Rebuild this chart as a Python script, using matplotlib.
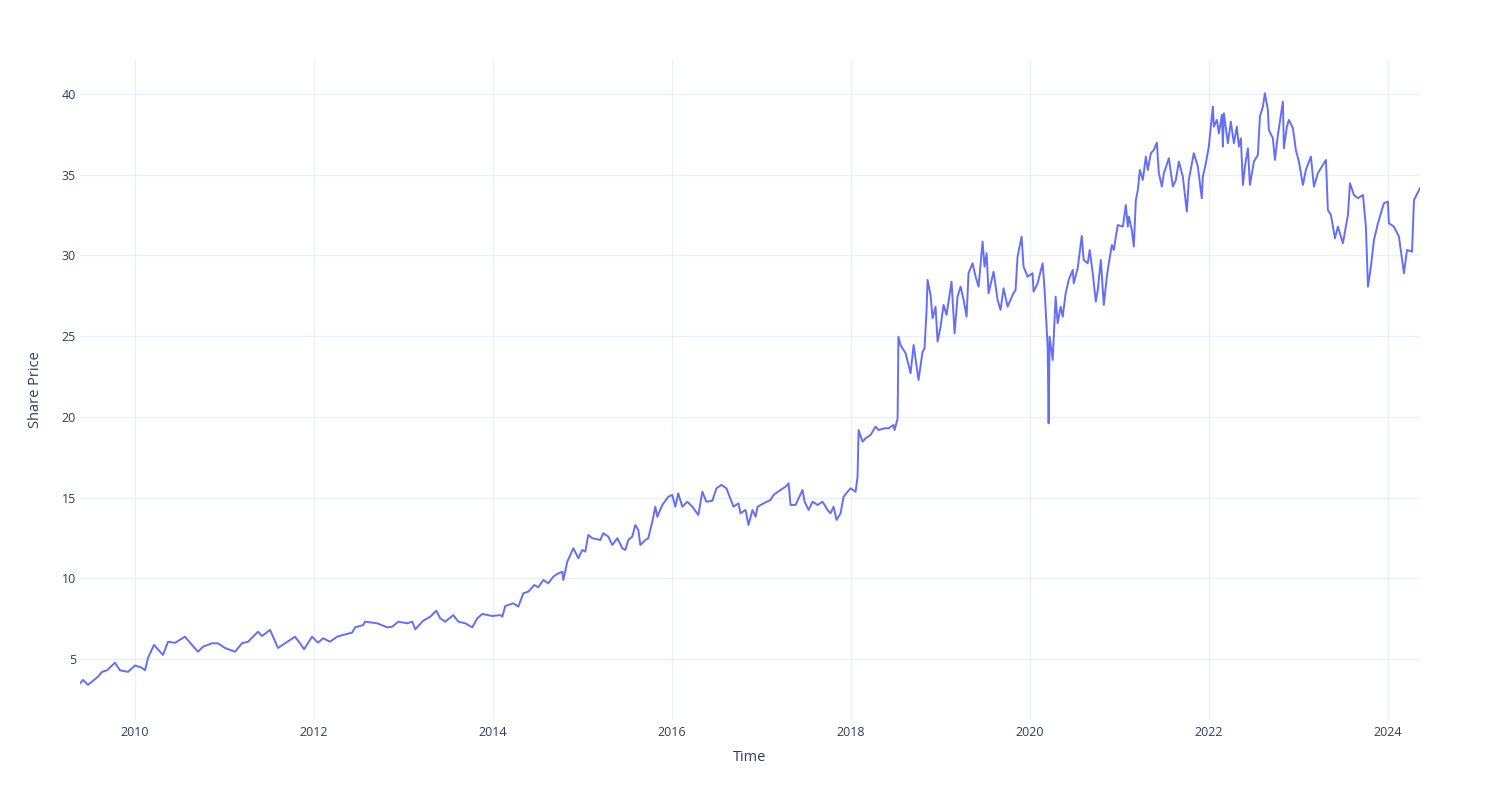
import pandas as pd
import matplotlib
matplotlib.use("Agg")
import matplotlib.pyplot as plt
import matplotlib.dates as mdates

# share price, time as decimal years
years = [
    2009.385, 2009.419, 2009.474, 2009.519, 2009.586, 2009.631, 2009.687, 2009.776, 2009.832, 2009.922,
    2010.000, 2010.078, 2010.112, 2010.145, 2010.212, 2010.313, 2010.369, 2010.447, 2010.559, 2010.637,
    2010.704, 2010.760, 2010.861, 2010.928,
    2011.006, 2011.118, 2011.196, 2011.264, 2011.375, 2011.420, 2011.510, 2011.599, 2011.677, 2011.789,
    2011.845, 2011.890, 2011.979,
    2012.046, 2012.102, 2012.180, 2012.259, 2012.326, 2012.426, 2012.460, 2012.549, 2012.572, 2012.706,
    2012.818, 2012.874, 2012.941,
    2013.041, 2013.097, 2013.131, 2013.220, 2013.299, 2013.366, 2013.410, 2013.466, 2013.556, 2013.612,
    2013.690, 2013.768, 2013.824, 2013.880, 2013.992,
    2014.081, 2014.104, 2014.137, 2014.227, 2014.283, 2014.339, 2014.394, 2014.462, 2014.506, 2014.562,
    2014.618, 2014.674, 2014.730, 2014.775, 2014.786, 2014.831, 2014.898, 2014.954, 2014.998,
    2015.032, 2015.065, 2015.110, 2015.200, 2015.233, 2015.289, 2015.334, 2015.390, 2015.446, 2015.479,
    2015.513, 2015.557, 2015.591, 2015.625, 2015.647, 2015.703, 2015.736, 2015.781, 2015.815, 2015.837,
    2015.893, 2015.960,
    2016.004, 2016.038, 2016.071, 2016.116, 2016.172, 2016.228, 2016.295, 2016.340, 2016.384, 2016.451,
    2016.496, 2016.552, 2016.608, 2016.687, 2016.742, 2016.765, 2016.821, 2016.854, 2016.899, 2016.933,
    2016.955,
    2017.022, 2017.100, 2017.134, 2017.212, 2017.268, 2017.302, 2017.324, 2017.380, 2017.414, 2017.458,
    2017.481, 2017.526, 2017.570, 2017.626, 2017.682, 2017.738, 2017.771, 2017.805, 2017.838, 2017.883,
    2017.917, 2017.962, 2017.995,
    2018.051, 2018.073, 2018.085, 2018.129, 2018.163, 2018.219, 2018.275, 2018.308, 2018.375, 2018.420,
    2018.476, 2018.487, 2018.521, 2018.530, 2018.553, 2018.610, 2018.666, 2018.700, 2018.755, 2018.800,
    2018.822, 2018.845, 2018.856, 2018.889, 2018.912, 2018.945, 2018.968,
    2019.001, 2019.035, 2019.068, 2019.124, 2019.158, 2019.191, 2019.225, 2019.259, 2019.292, 2019.314,
    2019.359, 2019.393, 2019.426, 2019.471, 2019.493, 2019.516, 2019.538, 2019.594, 2019.639, 2019.672,
    2019.706, 2019.751, 2019.807, 2019.840, 2019.862, 2019.907, 2019.929, 2019.974,
    2020.030, 2020.041, 2020.086, 2020.142, 2020.164, 2020.198, 2020.209, 2020.220, 2020.254, 2020.287,
    2020.310, 2020.343, 2020.366, 2020.399, 2020.433, 2020.478, 2020.489, 2020.533, 2020.578, 2020.600,
    2020.645, 2020.667, 2020.701, 2020.735, 2020.757, 2020.791, 2020.824, 2020.858, 2020.880, 2020.914,
    2020.936, 2020.958, 2020.981,
    2021.037, 2021.070, 2021.092, 2021.104, 2021.137, 2021.159, 2021.182, 2021.204, 2021.227, 2021.260,
    2021.294, 2021.316, 2021.350, 2021.383, 2021.417, 2021.439, 2021.473, 2021.495, 2021.551, 2021.596,
    2021.629, 2021.663, 2021.707, 2021.752, 2021.774, 2021.830, 2021.875, 2021.919, 2021.931, 2021.965,
    2021.998,
    2022.043, 2022.054, 2022.088, 2022.110, 2022.144, 2022.155, 2022.166, 2022.211, 2022.244, 2022.278,
    2022.311, 2022.334, 2022.356, 2022.379, 2022.401, 2022.435, 2022.457, 2022.502, 2022.546, 2022.569,
    2022.602, 2022.625, 2022.658, 2022.669, 2022.714, 2022.737, 2022.770, 2022.792, 2022.826, 2022.837,
    2022.871, 2022.893, 2022.938, 2022.971,
    2023.005, 2023.050, 2023.083, 2023.139, 2023.173, 2023.217, 2023.251, 2023.307, 2023.329, 2023.363,
    2023.408, 2023.441, 2023.497, 2023.553, 2023.576, 2023.620, 2023.665, 2023.721, 2023.754, 2023.777,
    2023.810, 2023.844, 2023.889, 2023.922, 2023.955,
    2024.000, 2024.011, 2024.067, 2024.123, 2024.179, 2024.213, 2024.269, 2024.291, 2024.358,
]
prices = [
    3.50, 3.70, 3.40, 3.60, 3.90, 4.20, 4.30, 4.77, 4.30, 4.20,
    4.60, 4.45, 4.30, 5.06, 5.87, 5.25, 6.07, 6.00, 6.38, 5.87,
    5.45, 5.76, 5.97, 5.97,
    5.68, 5.45, 5.97, 6.07, 6.69, 6.42, 6.80, 5.68, 5.97, 6.38,
    5.97, 5.60, 6.38,
    6.01, 6.28, 6.07, 6.38, 6.49, 6.63, 6.96, 7.10, 7.31, 7.21,
    6.96, 7.00, 7.31,
    7.21, 7.31, 6.84, 7.37, 7.62, 7.99, 7.52, 7.31, 7.72, 7.31,
    7.21, 6.96, 7.52, 7.79, 7.66,
    7.72, 7.62, 8.28, 8.45, 8.24, 9.07, 9.17, 9.58, 9.44, 9.89,
    9.69, 10.10, 10.30, 10.40, 9.89, 11.03, 11.86, 11.24, 11.75,
    11.65, 12.68, 12.48, 12.37, 12.79, 12.58, 12.06, 12.48, 11.86, 11.75,
    12.37, 12.58, 13.30, 12.99, 12.06, 12.37, 12.48, 13.50, 14.43, 13.81,
    14.54, 15.05,
    15.16, 14.43, 15.26, 14.43, 14.74, 14.43, 13.92, 15.36, 14.74, 14.80,
    15.57, 15.78, 15.57, 14.43, 14.64, 14.02, 14.23, 13.30, 14.23, 13.81,
    14.43,
    14.64, 14.85, 15.16, 15.47, 15.67, 15.88, 14.54, 14.54, 14.95, 15.47,
    14.74, 14.23, 14.74, 14.54, 14.74, 14.23, 14.02, 14.43, 13.61, 14.02,
    15.05, 15.36, 15.57,
    15.36, 16.29, 19.18, 18.46, 18.67, 18.88, 19.39, 19.18, 19.29, 19.29,
    19.49, 19.18, 19.90, 24.96, 24.45, 23.94, 22.70, 24.45, 22.28, 24.03,
    24.24, 26.62, 28.48, 27.55, 26.10, 26.82, 24.66,
    25.58, 26.93, 26.31, 28.37, 25.17, 27.44, 28.06, 27.24, 26.20, 28.89,
    29.51, 28.68, 28.06, 30.85, 29.30, 30.13, 27.65, 28.99, 27.24, 26.62,
    27.96, 26.82, 27.55, 27.86, 29.92, 31.16, 29.30, 28.68,
    28.89, 27.75, 28.27, 29.51, 27.86, 24.35, 19.60, 24.96, 23.52, 27.44,
    25.79, 26.82, 26.20, 27.65, 28.48, 29.10, 28.27, 29.20, 31.20, 29.72,
    29.51, 30.33, 28.89, 27.13, 27.86, 29.72, 26.93, 28.68, 29.51, 30.64,
    30.33, 31.16, 31.88,
    31.78, 33.12, 31.78, 32.40, 31.57, 30.54, 33.43, 34.05, 35.29, 34.67,
    36.12, 35.29, 36.33, 36.53, 36.98, 35.09, 34.26, 35.09, 36.02, 34.26,
    34.67, 35.81, 34.88, 32.71, 34.67, 36.33, 35.50, 33.54, 34.88, 35.71,
    36.74,
    39.21, 37.97, 38.39, 37.56, 38.70, 36.74, 38.80, 36.94, 38.28, 36.94,
    37.97, 36.74, 37.25, 34.36, 35.50, 36.63, 34.36, 35.81, 36.22, 38.60,
    39.21, 40.04, 39.01, 37.77, 37.25, 35.91, 37.46, 38.28, 39.52, 36.63,
    37.97, 38.39, 37.87, 36.53,
    35.81, 34.36, 35.29, 36.12, 34.26, 35.09, 35.40, 35.91, 32.81, 32.50,
    31.06, 31.78, 30.75, 32.50, 34.47, 33.74, 33.54, 33.74, 31.78, 28.06,
    29.30, 30.95, 31.99, 32.61, 33.23,
    33.33, 31.99, 31.78, 31.16, 28.89, 30.33, 30.23, 33.43, 34.16,
]


def to_date(y):
    yr = int(y)
    start = pd.Timestamp(yr, 1, 1)
    end = pd.Timestamp(yr + 1, 1, 1)
    return start + (end - start) * (y - yr)


dates = [to_date(y) for y in years]

plt.rcParams['font.family'] = ['Open Sans', 'DejaVu Sans']
text_col = '#2a3f5f'
grid_col = '#ebf0f8'

fig = plt.figure(figsize=(15, 8), dpi=100)
ax = fig.add_axes([80 / 1500, 80 / 800, 1340 / 1500, 660 / 800])

ax.plot(dates, prices, color='#636efa', lw=1.4)

ax.set_xlim(dates[0], dates[-1])
ax.set_ylim(1.22, 42.1)
ax.set_yticks([5, 10, 15, 20, 25, 30, 35, 40])
ax.xaxis.set_major_locator(mdates.YearLocator(2))
ax.xaxis.set_major_formatter(mdates.DateFormatter('%Y'))

ax.grid(True, color=grid_col, lw=1)
ax.set_axisbelow(True)
for s in ax.spines.values():
    s.set_visible(False)
ax.tick_params(length=0, labelsize=9, colors=text_col, pad=4)
ax.tick_params(axis='y', pad=3)

ax.set_xlabel('Time', fontsize=10.5, color=text_col, labelpad=8)
ax.set_ylabel('Share Price', fontsize=10.5, color=text_col, labelpad=13)

fig.savefig('out.png', dpi=100, facecolor='white')
